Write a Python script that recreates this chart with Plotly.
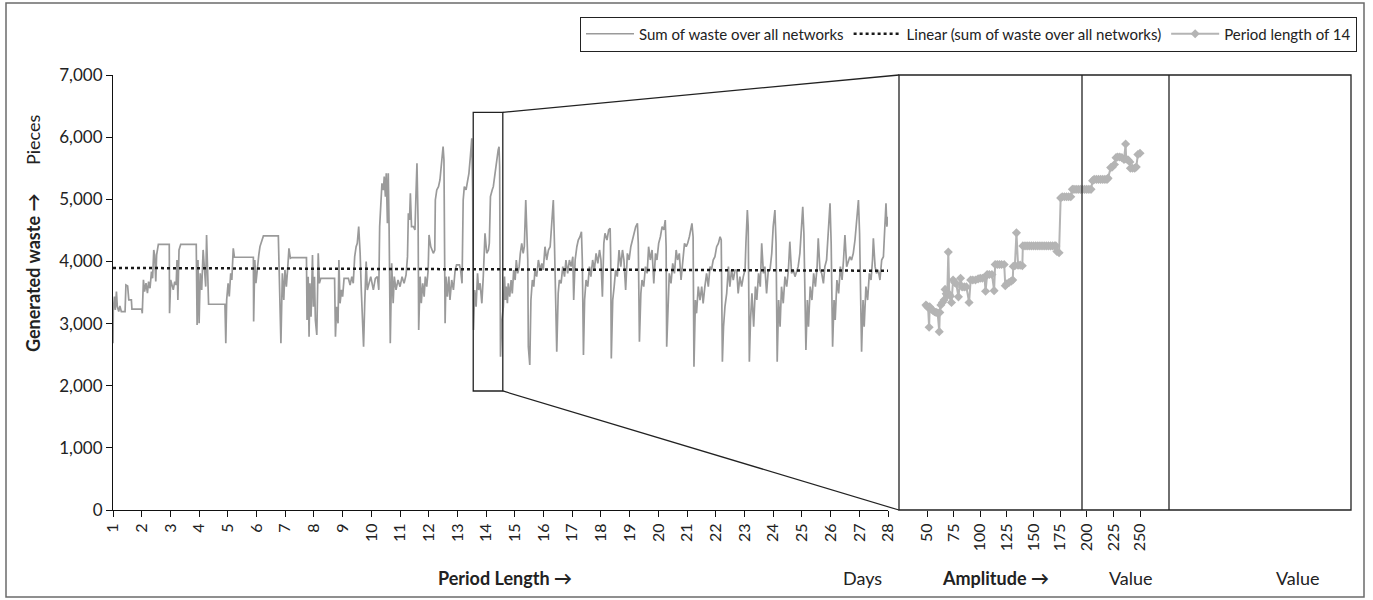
import plotly.graph_objects as go

W, H = 1373, 600

# ---------------- data ----------------
period_days = [
    1.00, 1.01, 1.05, 1.08, 1.12, 1.15, 1.20, 1.24, 1.29, 1.42, 1.45, 1.51, 1.55, 1.64, 1.66, 2.00,
    2.02, 2.06, 2.10, 2.15, 2.20, 2.24, 2.29, 2.34, 2.38, 2.42, 2.45, 2.49, 2.52, 2.58, 2.96, 2.97,
    3.01, 3.06, 3.10, 3.15, 3.20, 3.23, 3.26, 3.30, 3.36, 3.90, 3.93, 3.96, 4.00, 4.04, 4.09, 4.14,
    4.18, 4.23, 4.26, 4.30, 4.33, 4.90, 4.93, 4.96, 5.01, 5.05, 5.10, 5.14, 5.19, 5.23, 5.89, 5.90,
    5.94, 5.98, 6.03, 6.08, 6.12, 6.18, 6.24, 6.76, 6.78, 6.82, 6.85, 6.90, 6.95, 6.99, 7.04, 7.09,
    7.13, 7.18, 7.23, 7.74,
    7.76, 7.80, 7.83, 7.86, 7.90, 7.95, 7.98, 8.02, 8.05, 8.10, 8.13, 8.15, 8.19, 8.24, 8.72, 8.75,
    8.79, 8.84, 8.87, 8.91, 8.96, 9.00, 9.05, 9.20, 9.26, 9.32, 9.37, 9.42, 9.47, 9.51, 9.56, 9.61,
    9.65, 9.70, 9.73, 9.77, 9.82, 9.86, 9.91, 9.98, 10.07, 10.14, 10.21, 10.26, 10.29, 10.34, 10.37,
    10.42, 10.45, 10.49, 10.52, 10.56, 10.59, 10.62, 10.64, 10.66, 10.71, 10.76, 10.80, 10.86, 10.93,
    11.00, 11.07, 11.14, 11.21, 11.26, 11.29, 11.33, 11.36, 11.40, 11.47, 11.52, 11.56, 11.59, 11.63,
    11.65, 11.70, 11.74, 11.79, 11.84, 11.88, 11.93, 11.98, 12.01, 12.07, 12.16, 12.21, 12.23, 12.28,
    12.34, 12.39, 12.45, 12.50, 12.53, 12.57, 12.60, 12.65, 12.70, 12.74, 12.80, 12.86, 12.92, 12.97,
    13.07, 13.11, 13.16, 13.20, 13.24, 13.30, 13.36, 13.40, 13.45, 13.50, 13.53, 13.56, 13.60, 13.65,
    13.70, 13.74, 13.79, 13.85, 13.90, 13.96, 14.02, 14.08, 14.11, 14.15, 14.21, 14.25, 14.31, 14.37,
    14.42, 14.45, 14.47, 14.50, 14.54,
    14.60, 14.64, 14.67, 14.70, 14.74, 14.77, 14.82, 14.87, 14.91, 14.96, 15.01, 15.05, 15.10, 15.15,
    15.19, 15.24, 15.29, 15.33, 15.38, 15.41, 15.45, 15.47, 15.52, 15.56, 15.61, 15.66, 15.70, 15.76,
    15.82, 15.88, 15.94, 15.99, 16.05, 16.11, 16.17, 16.23, 16.28, 16.34, 16.38, 16.41, 16.46, 16.51,
    16.55, 16.61, 16.67, 16.73, 16.78, 16.84, 16.90, 16.96, 17.02, 17.05, 17.10, 17.16, 17.21, 17.27,
    17.32, 17.35, 17.39, 17.43, 17.48, 17.54, 17.60, 17.65, 17.71, 17.77, 17.83, 17.89, 17.95, 18.00,
    18.05, 18.10, 18.14, 18.21, 18.27, 18.32, 18.34, 18.36, 18.41, 18.46, 18.51, 18.57, 18.63, 18.69,
    18.75, 18.80, 18.86, 18.92, 18.98, 19.04, 19.10, 19.15, 19.21, 19.27, 19.30, 19.34, 19.39, 19.43,
    19.49, 19.55, 19.61, 19.66, 19.72, 19.78, 19.84, 19.90, 19.95, 20.01, 20.07, 20.13, 20.19, 20.24,
    20.27, 20.29, 20.34, 20.38, 20.44, 20.50, 20.56, 20.62, 20.67, 20.73, 20.79, 20.85, 20.91, 20.97,
    21.02, 21.08, 21.14, 21.17, 21.21,
    21.24, 21.29, 21.33, 21.39, 21.45, 21.51, 21.56, 21.62, 21.68, 21.74, 21.80, 21.85, 21.91, 21.97,
    22.03, 22.09, 22.15, 22.19, 22.23, 22.27, 22.32, 22.38, 22.44, 22.49, 22.55, 22.61, 22.67, 22.73,
    22.78, 22.84, 22.90, 22.96, 23.02, 23.05, 23.10, 23.13, 23.17, 23.21, 23.26, 23.32, 23.38, 23.43,
    23.49, 23.55, 23.60, 23.66, 23.71, 23.77, 23.83, 23.89, 23.95, 24.00, 24.06, 24.10, 24.14, 24.19,
    24.24, 24.29, 24.35, 24.41, 24.47, 24.53, 24.58, 24.64, 24.70, 24.76, 24.82, 24.87, 24.93, 24.98,
    25.03, 25.07, 25.14, 25.19, 25.23, 25.29, 25.35, 25.41, 25.47, 25.53, 25.57, 25.63, 25.69, 25.75,
    25.80, 25.86, 25.91, 25.95, 25.98, 26.02, 26.07, 26.12, 26.16, 26.22, 26.28, 26.34, 26.40, 26.45,
    26.50, 26.56, 26.62, 26.67, 26.73, 26.79, 26.85, 26.91, 26.97, 27.01, 27.08, 27.13, 27.17, 27.23,
    27.29, 27.35, 27.41, 27.46, 27.49, 27.55, 27.60, 27.66, 27.72, 27.78, 27.84, 27.89, 27.93, 27.96,
    28.00,
]

waste_pieces = [
    2684, 3220, 3435, 3220, 3515, 3274, 3193, 3284, 3193, 3193, 3622, 3606, 3381, 3381, 3231, 3231,
    3166, 3703, 3515, 3649, 3488, 3676, 3569, 3837, 3729, 4185, 4105, 3676, 4105, 4276, 4276, 3166,
    3703, 3585, 3542, 3676, 3622, 4024, 3381, 4185, 4276, 4276, 2979, 4024, 3006, 3810, 3542, 4185,
    3917, 3595, 4426, 3649, 3311, 3311, 2684, 3381, 3649, 3435, 3810, 3703, 4212, 4067, 4067, 3033,
    4024, 3649, 3917, 4105, 4239, 4346, 4410, 4410, 3917, 3542, 2684, 3810, 3381, 3863, 3595, 3917,
    4212, 4051, 4062, 4062,
    3058, 3755, 2790, 3648, 3112, 4104, 3272, 3755, 3058, 2817, 3541, 4131, 3648, 3728, 3728, 2790,
    3272, 3004, 4023, 3326, 3541, 3433, 3728, 3728, 3621, 3755, 3648, 4077, 4238, 4292, 4560, 4131,
    3541, 3004, 2629, 3326, 3997, 3541, 3648, 3755, 3541, 3728, 3755, 3541, 4560, 4989, 5257,
    5150, 5364, 5043, 5418, 4613, 5418, 4506, 3541, 2682, 3970, 3326, 3755, 3541, 3702,
    3594, 3755, 3648, 3782, 4077, 4774, 4667, 5096, 4560, 4560, 4506, 5150, 5579, 4613,
    2897, 3755, 3326, 3648, 3433, 3755, 3594, 3862, 4426, 4238, 4131, 4184, 4989, 5150,
    5203, 5311, 5633, 5847, 5633, 3004, 3755, 3433, 3755, 3380, 3702, 3541, 3862, 3943,
    3943, 3862, 3648, 4989, 5203, 5150, 5311, 5418, 5686, 5981, 5150, 2897, 3541, 3272,
    3809, 3541, 3648, 3326, 3755, 4452, 4131, 4184, 4292, 5043, 5150, 5203, 5418, 5686,
    5794, 5847, 5525, 2468, 3004,
    3272, 3755, 3379, 3594, 3326, 3647, 3433, 3701, 3486, 3862, 3701, 4023, 3808, 3916,
    4130, 4291, 4130, 4237, 4988, 4666, 4023, 2628, 2333, 3379, 3701, 3594, 3862, 3755,
    4023, 3862, 3969, 3862, 4237, 4023, 4184, 4237, 4559, 4988, 4291, 3379, 2548, 3486,
    3701, 3647, 3916, 3755, 4023, 3808, 4023, 3916, 4076, 3379, 4023, 4237, 4345, 4398,
    4479, 4023, 2494, 3379, 3701, 3594, 3916, 3755, 4023, 3862, 4130, 3969, 4184, 4023,
    3433, 4291, 4452, 4345, 4506, 4532, 4023, 2440, 3379, 3594, 3862, 3755, 4184, 3916,
    4184, 4023, 3540, 4130, 4023, 4237, 4345, 4452, 4559, 4613, 4291, 2709, 3486, 3701,
    3594, 3916, 3808, 4237, 4023, 4184, 3647, 4130, 4023, 4291, 4398, 4559, 4506, 4666,
    4237, 2628, 3379, 3808, 3647, 3969, 3808, 4184, 4023, 4130, 3701, 4076, 4291, 4237,
    4291, 4398, 4559, 4613, 4398,
    2306, 3379, 3165, 3594, 3379, 3594, 3326, 3594, 3808, 3594, 3916, 3862, 4023, 4076,
    4237, 4291, 4398, 4345, 2387, 2950, 3272, 3486, 3916, 3594, 3862, 3701, 3862, 3862,
    3486, 3755, 3594, 3755, 3862, 4291, 4827, 4559, 2387, 3057, 3486, 2950, 3594, 3379,
    3808, 3594, 4291, 3808, 3916, 3486, 3862, 3862, 4130, 4559, 4827, 4291, 2387, 3379,
    2950, 3594, 3326, 3755, 3594, 3862, 4318, 3808, 3862, 3755, 3862, 3916, 4130, 4559,
    4881, 4452, 2574, 3379, 2950, 3594, 3379, 3808, 3594, 3916, 4372, 3862, 3808, 3647,
    3916, 4023, 4452, 4827, 4935, 4291, 2628, 3379, 3057, 3701, 3486, 3916, 3701, 4023,
    4425, 3916, 4023, 4076, 4023, 4130, 4345, 4666, 4988, 4452, 2548, 3379, 2950, 3594,
    3379, 3808, 3701, 4023, 4372, 3916, 3808, 3862, 3701, 4023, 4076, 4559, 4935, 4559,
    4720,
]

trend_days = [1, 28]
trend_waste = [3895, 3850]

amplitude_14 = [
    49, 50, 51, 52, 52.5, 54, 55.5, 57, 58.5, 60, 61.5, 62, 63, 64.5, 66, 67, 68, 69, 70, 71, 72, 73,
    74.5, 76, 77.5, 79.5, 81.5, 83, 85, 87, 89.5, 91, 93, 95.5, 98, 100, 102, 104, 105, 106.5, 108.5,
    111, 113, 114, 116, 118, 120, 122.5, 123.5, 125, 127, 129, 130.5, 131, 132.5, 134, 135.5, 137.5,
    139.5, 140, 142, 144, 146, 148, 150, 152, 154, 156, 158, 160, 162, 164, 166, 168, 170, 171, 172,
    174, 175.5, 177, 179, 181, 183, 185, 186.5, 188, 190, 192, 194, 196, 198, 200, 202, 204, 205.5,
    207, 209, 211, 213, 215, 217, 219, 220, 222.5, 224, 226, 227.5, 229, 231, 233, 235, 236.5, 237,
    239, 240.5, 241, 243, 245, 246.5, 248, 250,
]
waste_14 = [
    3300, 3280, 3260, 2940, 3270, 3230, 3210, 3190, 3180, 3170, 2870, 3180, 3300, 3340, 3380, 3550,
    3480, 3460, 4150, 3470, 3440, 3340,
    3700, 3660, 3640, 3430, 3730, 3590, 3590, 3590, 3340, 3700, 3700, 3700, 3720, 3730, 3730, 3740,
    3520, 3790, 3790,
    3790, 3530, 3950, 3950, 3950, 3950, 3950, 3610, 3640, 3660, 3680, 3700, 3920, 3930, 4460, 3940,
    3940, 3930, 4250, 4250, 4250, 4250, 4250, 4250, 4250, 4250, 4250, 4250, 4250, 4250, 4250, 4250,
    4250, 4250, 4250, 4160,
    4140, 5020, 5040, 5040, 5040, 5040, 5040, 5160, 5160, 5160, 5160, 5160, 5160, 5160, 5160, 5160,
    5160, 5300,
    5320, 5320, 5320, 5320, 5320, 5320, 5320, 5340, 5510, 5520, 5560, 5670, 5680, 5680, 5670, 5640,
    5890, 5650,
    5630, 5600, 5500, 5500, 5500, 5520, 5720, 5740,
]

day_ticks = list(range(1, 29))
amp_ticks = [50, 75, 100, 125, 150, 175, 200, 225, 250]
waste_ticks = [0, 1000, 2000, 3000, 4000, 5000, 6000, 7000]
zoom_days = [13.55, 14.58]
zoom_waste = [1915, 6400]

# ---------------- geometry (pixels) ----------------
PL, PR, PT, PB = 113, 888, 75, 510      # main plot
QL, QR = 899, 1351                      # right panel
Q_DIV = [1082, 1169]
DAY_RANGE = [1, 28]
Y_RANGE = [0, 7000]
AMP_RANGE = [50 - (927 - QL) / 1.065, 50 + (QR - 927) / 1.065]


def px(x):
    return x / W


def py(y):
    return 1 - y / H


def dx(d):
    return px(PL + (d - DAY_RANGE[0]) / (DAY_RANGE[1] - DAY_RANGE[0]) * (PR - PL))


def dy(v):
    return py(PB - (v - Y_RANGE[0]) / (Y_RANGE[1] - Y_RANGE[0]) * (PB - PT))


FONT = "Lato"
fig = go.Figure()

fig.add_trace(go.Scatter(
    x=period_days, y=waste_pieces, mode="lines", name="Sum of waste over all networks",
    line=dict(color="#9a9a9a", width=1.7), xaxis="x", yaxis="y"))
fig.add_trace(go.Scatter(
    x=trend_days, y=trend_waste, mode="lines", name="Linear (sum of waste over all networks)",
    line=dict(color="#1a1a1a", width=2.5, dash="dot"), xaxis="x", yaxis="y"))
fig.add_trace(go.Scatter(
    x=amplitude_14, y=waste_14, mode="lines+markers", name="Period length of 14",
    line=dict(color="#b4b4b4", width=2),
    marker=dict(symbol="diamond", size=7, color="#b4b4b4"), xaxis="x2", yaxis="y"))

shapes = []
shapes.append(dict(type="rect", xref="paper", yref="paper", x0=px(6), x1=px(1364), y0=py(597), y1=py(3),
                   line=dict(color="#6b6b6b", width=1.5)))
shapes.append(dict(type="rect", xref="x", yref="y", x0=zoom_days[0], x1=zoom_days[1],
                   y0=zoom_waste[0], y1=zoom_waste[1], line=dict(color="#222", width=1.3)))
shapes.append(dict(type="line", xref="paper", yref="paper", x0=dx(zoom_days[1]), y0=dy(zoom_waste[1]),
                   x1=px(QL), y1=py(PT), line=dict(color="#222", width=1.3)))
shapes.append(dict(type="line", xref="paper", yref="paper", x0=dx(zoom_days[1]), y0=dy(zoom_waste[0]),
                   x1=px(QL), y1=py(PB), line=dict(color="#222", width=1.3)))
shapes.append(dict(type="rect", xref="paper", yref="paper", x0=px(QL), x1=px(QR), y0=py(PB), y1=py(PT),
                   line=dict(color="#222", width=1.3)))
for xd in Q_DIV:
    shapes.append(dict(type="line", xref="paper", yref="paper", x0=px(xd), x1=px(xd), y0=py(PB), y1=py(PT),
                       line=dict(color="#222", width=1.3)))

annotations = []


def label(text, x, y, size=18, bold=False, angle=0):
    annotations.append(dict(text=f"<b>{text}</b>" if bold else text, x=px(x), y=py(y), xref="paper",
                            yref="paper", showarrow=False, xanchor="center", yanchor="middle",
                            textangle=angle, font=dict(family=FONT, size=size, color="#222")))


label("Period Length \u2192", 505, 578, bold=True)
label("Days", 862, 578)
label("Amplitude \u2192", 995, 578, bold=True)
label("Value", 1131, 578)
label("Value", 1298, 578)
label("Generated waste \u2192", 33, 273, bold=True, angle=-90)
label("Pieces", 33, 140, angle=-90)

fig.update_layout(
    width=W, height=H, autosize=False, margin=dict(l=0, r=0, t=0, b=0, pad=0),
    paper_bgcolor="white", plot_bgcolor="rgba(0,0,0,0)",
    font=dict(family=FONT, size=16, color="#222"),
    showlegend=True,
    legend=dict(orientation="h", x=px(1357), xanchor="right", y=py(34), yanchor="middle",
                bordercolor="#222", borderwidth=1, font=dict(family=FONT, size=15, color="#222"),
                bgcolor="white", tracegroupgap=0, itemwidth=48),
    xaxis=dict(domain=[px(PL), px(PR)], range=DAY_RANGE, tickvals=day_ticks, tickangle=-90,
               showline=True, linecolor="#111", linewidth=1.2, ticks="outside", ticklen=6,
               tickcolor="#111", showgrid=False, zeroline=False, anchor="y", automargin=False,
               tickfont=dict(family=FONT, size=16)),
    xaxis2=dict(domain=[px(QL), px(QR)], range=AMP_RANGE, tickvals=amp_ticks, tickangle=-90,
                showline=False, ticks="outside", ticklen=6, tickcolor="#111", showgrid=False,
                zeroline=False, anchor="y", automargin=False, tickfont=dict(family=FONT, size=16)),
    yaxis=dict(domain=[py(PB), py(PT)], range=Y_RANGE, tickvals=waste_ticks, tickformat=",",
               showline=True, linecolor="#111", linewidth=1.2, ticks="outside", ticklen=6,
               tickcolor="#111", showgrid=False, zeroline=False, anchor="x", automargin=False,
               tickfont=dict(family=FONT, size=17)),
    shapes=shapes, annotations=annotations,
)

fig.write_html(
    "out.html",
    config={"displayModeBar": False},
    post_script="document.body.style.margin='0';document.body.style.overflow='hidden';",
)
